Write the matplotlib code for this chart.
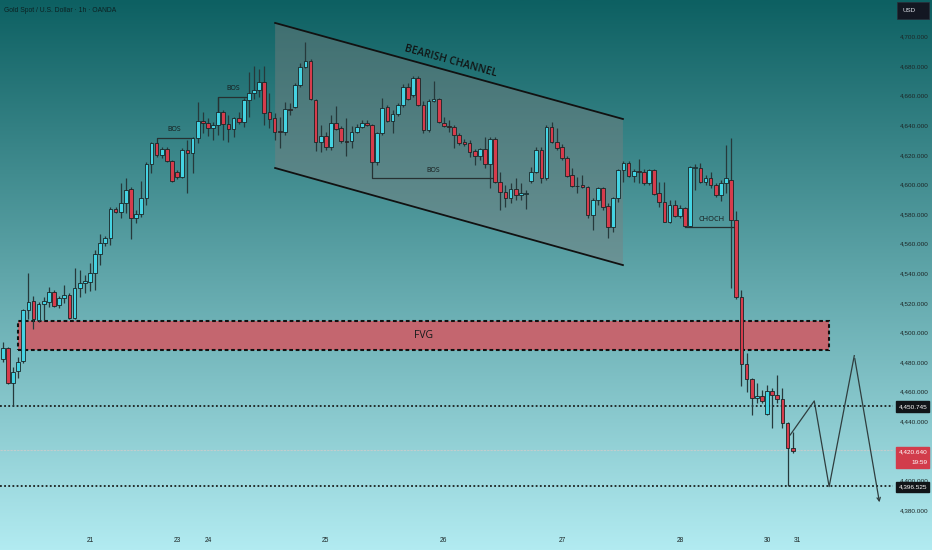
import numpy as np
import matplotlib.pyplot as plt
from matplotlib.patches import Rectangle, Polygon
from matplotlib import transforms

# hourly candles
opens = [4482.4, 4489.9, 4466.2, 4474.3, 4481.0, 4515.5, 4521.6, 4508.8, 4519.6, 4521.0,
         4527.7, 4519.0, 4523.6, 4525.7, 4510.1, 4530.4, 4533.8, 4534.5, 4540.5, 4553.4,
         4560.8, 4564.2, 4583.8, 4581.8, 4587.8, 4597.3, 4577.7, 4580.4, 4591.2, 4614.2,
         4628.4, 4620.3, 4624.3, 4616.2, 4608.8, 4605.4, 4623.6, 4621.6, 4631.8, 4643.2,
         4641.9, 4638.5, 4640.5, 4649.3, 4641.2, 4637.8, 4645.3, 4642.6, 4657.4, 4662.2,
         4664.2, 4669.6, 4649.3, 4645.3, 4636.5, 4635.8, 4651.3, 4652.7, 4667.6, 4679.7,
         4683.8, 4657.4, 4629.0, 4633.1, 4625.7, 4641.9, 4638.5, 4629.7, 4629.7, 4635.8,
         4639.2, 4641.9, 4640.5, 4615.5, 4635.1, 4652.7, 4643.2, 4648.0, 4654.1, 4666.2,
         4660.8, 4672.3, 4654.1, 4637.2, 4656.8, 4658.1, 4641.9, 4639.9, 4639.2, 4633.8,
         4629.0, 4628.4, 4623.0, 4619.6, 4624.3, 4614.2, 4631.1, 4602.0, 4595.3, 4591.2,
         4597.3, 4593.2, 4594.0, 4602.7, 4608.8, 4623.6, 4604.7, 4639.2, 4629.0, 4625.7,
         4618.2, 4606.8, 4599.3, 4600.0, 4598.6, 4579.7, 4589.9, 4598.0, 4585.8, 4571.6,
         4591.2, 4610.1, 4614.9, 4606.1, 4609.4, 4609.0, 4601.3, 4610.1, 4594.6, 4588.5,
         4575.0, 4586.5, 4579.0, 4584.5, 4572.3, 4611.5, 4611.5, 4602.0, 4604.7, 4600.0,
         4593.2, 4601.3, 4603.4, 4576.4, 4524.3, 4479.0, 4468.9, 4456.0, 4457.4, 4445.3,
         4460.8, 4458.1, 4455.4, 4439.2, 4422.3]
highs = [4493.9, 4490.5, 4477.0, 4483.8, 4516.0, 4540.5, 4525.0, 4521.0, 4524.3, 4531.0,
         4529.0, 4525.0, 4532.4, 4527.0, 4543.9, 4542.6, 4539.2, 4547.3, 4556.0, 4566.9,
         4565.5, 4585.1, 4585.0, 4601.3, 4604.7, 4598.6, 4583.1, 4602.7, 4615.5, 4629.0,
         4629.1, 4626.0, 4625.7, 4617.0, 4610.0, 4625.0, 4630.4, 4632.4, 4656.1, 4649.3,
         4645.3, 4642.6, 4659.5, 4650.7, 4647.3, 4646.0, 4649.3, 4658.8, 4676.4, 4680.4,
         4678.4, 4680.4, 4662.2, 4648.6, 4646.0, 4656.1, 4655.4, 4668.9, 4682.4, 4696.6,
         4685.1, 4658.1, 4640.5, 4635.8, 4647.3, 4653.4, 4640.0, 4645.3, 4639.9, 4641.2,
         4643.9, 4643.9, 4641.0, 4635.8, 4658.8, 4654.1, 4650.7, 4655.4, 4668.2, 4668.9,
         4673.6, 4673.6, 4656.8, 4658.1, 4670.3, 4659.0, 4646.0, 4643.9, 4640.5, 4635.0,
         4631.0, 4630.4, 4624.3, 4625.0, 4632.4, 4632.4, 4632.4, 4608.8, 4600.0, 4601.3,
         4604.7, 4601.3, 4596.6, 4612.2, 4625.7, 4625.7, 4640.5, 4642.6, 4638.5, 4627.7,
         4619.6, 4611.5, 4605.4, 4606.8, 4599.0, 4591.2, 4598.6, 4598.6, 4587.8, 4591.9,
         4610.8, 4616.2, 4616.2, 4610.8, 4617.6, 4610.8, 4610.8, 4610.8, 4602.0, 4602.0,
         4589.9, 4589.9, 4586.5, 4585.1, 4612.8, 4614.2, 4614.9, 4606.8, 4608.8, 4601.3,
         4603.4, 4627.0, 4631.8, 4582.4, 4529.0, 4486.5, 4469.6, 4466.2, 4461.5, 4464.9,
         4462.8, 4471.6, 4462.8, 4439.9, 4433.1]
lows = [4480.4, 4465.5, 4450.7, 4469.6, 4480.0, 4509.5, 4502.7, 4507.4, 4508.8, 4517.6,
        4517.6, 4517.0, 4520.3, 4509.5, 4509.5, 4524.3, 4527.0, 4528.4, 4529.0, 4546.0,
        4559.0, 4559.4, 4581.0, 4577.7, 4581.0, 4563.5, 4574.3, 4578.4, 4586.5, 4608.1,
        4618.9, 4618.0, 4615.5, 4602.0, 4604.0, 4604.7, 4594.6, 4608.1, 4628.4, 4635.1,
        4633.1, 4630.4, 4633.8, 4630.4, 4629.0, 4632.4, 4641.5, 4639.2, 4646.0, 4658.1,
        4659.5, 4640.5, 4638.5, 4630.4, 4625.0, 4633.8, 4647.3, 4652.0, 4666.2, 4679.0,
        4657.4, 4623.0, 4622.3, 4623.6, 4623.6, 4637.2, 4628.4, 4619.6, 4625.0, 4635.0,
        4638.5, 4639.9, 4614.9, 4613.5, 4633.8, 4642.6, 4635.1, 4646.6, 4652.7, 4657.4,
        4659.5, 4653.4, 4635.1, 4635.8, 4656.0, 4641.9, 4639.2, 4635.8, 4625.0, 4627.0,
        4626.5, 4619.0, 4613.5, 4616.9, 4611.5, 4598.0, 4601.3, 4583.1, 4585.1, 4587.8,
        4589.9, 4589.9, 4583.8, 4601.3, 4608.0, 4601.3, 4603.4, 4628.4, 4623.6, 4616.9,
        4605.4, 4598.6, 4594.6, 4598.0, 4577.7, 4569.6, 4586.5, 4583.1, 4564.2, 4568.2,
        4588.5, 4602.0, 4605.4, 4602.0, 4601.3, 4600.0, 4600.0, 4593.2, 4585.1, 4575.0,
        4574.3, 4578.4, 4577.7, 4571.6, 4571.6, 4596.6, 4601.3, 4600.0, 4598.0, 4591.9,
        4589.2, 4594.6, 4530.4, 4523.0, 4464.2, 4460.1, 4444.6, 4452.7, 4452.7, 4444.6,
        4435.8, 4452.7, 4435.8, 4396.5, 4419.0]
closes = [4489.9, 4466.2, 4473.6, 4480.4, 4515.5, 4521.0, 4509.5, 4519.6, 4521.6, 4527.7,
          4518.2, 4523.6, 4525.7, 4510.1, 4530.4, 4533.8, 4535.1, 4540.5, 4553.4, 4560.8,
          4564.2, 4583.8, 4581.8, 4587.8, 4596.6, 4577.7, 4580.4, 4591.2, 4614.2, 4628.4,
          4620.3, 4624.3, 4616.2, 4602.7, 4605.4, 4623.6, 4621.6, 4631.8, 4643.2, 4641.9,
          4638.5, 4640.5, 4649.3, 4641.2, 4637.8, 4645.3, 4642.6, 4657.4, 4662.2, 4664.2,
          4669.6, 4648.6, 4644.6, 4635.8, 4636.0, 4651.3, 4651.0, 4667.6, 4679.7, 4683.8,
          4658.1, 4629.0, 4633.1, 4625.7, 4641.9, 4637.8, 4629.7, 4629.2, 4635.8, 4639.2,
          4641.9, 4640.5, 4615.5, 4635.1, 4652.0, 4643.2, 4648.0, 4654.1, 4666.2, 4658.1,
          4672.3, 4654.1, 4637.2, 4656.8, 4658.1, 4642.6, 4639.9, 4639.2, 4633.8, 4628.4,
          4627.7, 4622.3, 4619.6, 4624.3, 4614.2, 4631.1, 4602.0, 4595.3, 4591.2, 4597.3,
          4593.2, 4594.6, 4594.2, 4608.8, 4623.6, 4604.7, 4639.2, 4629.0, 4625.0, 4618.2,
          4606.1, 4599.3, 4599.0, 4598.6, 4579.7, 4589.9, 4598.0, 4585.1, 4571.6, 4591.2,
          4610.1, 4614.9, 4606.1, 4609.4, 4609.0, 4601.3, 4610.1, 4593.9, 4588.5, 4575.0,
          4586.5, 4579.0, 4584.5, 4572.3, 4612.2, 4612.0, 4602.0, 4604.7, 4600.0, 4593.2,
          4601.3, 4604.7, 4576.4, 4524.3, 4479.0, 4468.9, 4456.0, 4457.4, 4454.0, 4460.8,
          4458.1, 4455.4, 4439.2, 4422.3, 4420.6]

day_labels = ['21', '23', '24', '25', '26', '27', '28', '30', '31']
day_index = [17, 34, 40, 63, 86, 109, 132, 149, 155]
price_ticks = list(range(4380, 4701, 20))

# drawings
channel_x = [53.1, 120.9]
channel_top = [4709.5, 4644.6]
channel_bot = [4611.5, 4545.9]
fvg_x = [2.9, 161.1]
fvg_lo, fvg_hi = 4488.8, 4508.3
bos_lines = [  # (x_start, x_end, level, candle edge at x_start)
    (30, 37, 4631.8, 4629.0),
    (42, 48, 4659.7, 4649.3),
    (72, 95.6, 4604.7, 4615.5),
]
bos_text = [(33.4, 4637.2), (44.9, 4665.5), (83.9, 4610.1)]
choch = (133, 142.7, 4571.6)
proj_x = [153.5, 158.2, 161.1, 166.0, 171.0]
proj_y = [4431.1, 4454.1, 4396.2, 4484.7, 4383.8]
level_hi = 4450.745
level_lo = 4396.525
last_price = 4420.640

fig = plt.figure(figsize=(9.32, 5.5), dpi=100)
ax = fig.add_axes([0, 0, 1, 1])
x0, x1 = -0.53, 181.15
y0, y1 = 4353.4, 4725.0
ax.set_xlim(x0, x1)
ax.set_ylim(y0, y1)
ax.axis('off')

# teal gradient background
top = np.array([13, 96, 98]) / 255
bot = np.array([178, 235, 241]) / 255
t = np.linspace(0, 1, 300)[:, None]
grad = (top * (1 - t) + bot * t)[:, None, :]
ax.imshow(grad, extent=[x0, x1, y0, y1], aspect='auto', origin='upper', zorder=0)

# bearish channel
ax.add_patch(Polygon([(channel_x[0], channel_top[0]), (channel_x[1], channel_top[1]),
                      (channel_x[1], channel_bot[1]), (channel_x[0], channel_bot[0])],
                     closed=True, facecolor='#7e7e7e', alpha=0.42, edgecolor='none', zorder=1))
ax.plot(channel_x, channel_top, color='#111111', lw=1.3, zorder=2)
ax.plot(channel_x, channel_bot, color='#111111', lw=1.3, zorder=2)
ax.text(87.4, 4683.5, 'BEARISH CHANNEL', rotation=-15.4, rotation_mode='anchor',
        ha='center', va='center', fontsize=7.5, fontweight='semibold', color='#111515',
        family='Open Sans', zorder=5)

# FVG box
ax.add_patch(Rectangle((fvg_x[0], fvg_lo), fvg_x[1] - fvg_x[0], fvg_hi - fvg_lo,
                       facecolor='#c4666f', edgecolor='#111111', lw=1.5,
                       linestyle=(0, (1.8, 1.3)), zorder=1))
ax.text((fvg_x[0] + fvg_x[1]) / 2, (fvg_lo + fvg_hi) / 2, 'FVG', ha='center', va='center',
        fontsize=7.5, color='#151a1a', family='Open Sans', zorder=5)

# horizontal levels
ax.hlines([level_hi, level_lo], x0, 173.6, colors='#1b1f1f', lw=1.3,
          linestyles=[(0, (1, 1.3))], zorder=2)
ax.hlines(last_price, x0, 173.6, colors='#c3cdcd', lw=0.8, linestyles=[(0, (2, 1))], zorder=1.5)

# candles
idx = np.arange(len(opens))
o = np.array(opens)
c = np.array(closes)
up = c >= o
ax.vlines(idx, lows, highs, color='#26393b', lw=0.9, zorder=3)
body = np.maximum(np.abs(c - o), 0.6)
ax.bar(idx, body, bottom=np.minimum(o, c), width=0.72,
       color=np.where(up, '#45d3e2', '#d63c4c'), edgecolor='#1a2526', lw=0.6, zorder=4)

# BOS / CHOCH markers
for xs, xe, lvl, edge in bos_lines:
    ax.plot([xs, xs, xe], [edge, lvl, lvl], color='#263132', lw=0.9, zorder=3)
for (tx, ty) in bos_text:
    ax.text(tx, ty, 'BOS', ha='center', va='center', fontsize=5, color='#151a1a',
            family='Open Sans', zorder=5)
ax.plot([choch[0], choch[1]], [choch[2], choch[2]], color='#263132', lw=0.9, zorder=3)
ax.text(138.1, 4577.0, 'CHOCH', ha='center', va='center', fontsize=5.3, color='#151a1a',
        family='Open Sans', zorder=5)

# projected path
ax.plot(proj_x[:-1], proj_y[:-1], color='#2f3d3e', lw=0.9, zorder=3)
ax.annotate('', xy=(proj_x[-1], proj_y[-1]), xytext=(proj_x[-2], proj_y[-2]),
            arrowprops=dict(arrowstyle='->', color='#2f3d3e', lw=0.9, mutation_scale=6),
            zorder=3)

# price scale
blend = transforms.blended_transform_factory(ax.transAxes, ax.transData)
for p in price_ticks:
    ax.text(0.9965, p, f'{p:,.3f}', transform=blend, ha='right', va='center',
            fontsize=4.6, color='#1c2626', family='Liberation Sans', zorder=6)


def price_box(lines, face, height, center):
    ax.add_patch(Rectangle((0.961, center - height / 2), 0.036, height, transform=blend,
                           facecolor=face, edgecolor=face, zorder=7))
    n = len(lines)
    for k, s in enumerate(lines):
        yy = center + (n - 1) * height / 4 - k * height / 2
        ax.text(0.9955, yy, s, transform=blend, ha='right', va='center', fontsize=4.6,
                color='white', family='Liberation Sans', zorder=8)


price_box([f'{level_hi:,.3f}'], '#111518', 7.6, 4450.2)
price_box([f'{last_price:,.3f}', '19:59'], '#d23c4b', 14.2, 4416.1)
price_box([f'{level_lo:,.3f}'], '#111518', 6.8, 4396.1)

# USD tag and title
ax.add_patch(Rectangle((0.9625, 0.9655), 0.0345, 0.031, transform=ax.transAxes,
                       facecolor='#131722', edgecolor='#2a2e39', lw=0.5, zorder=7))
ax.text(0.968, 0.981, 'USD', transform=ax.transAxes, ha='left', va='center', fontsize=4.5,
        color='#e0e3eb', family='Liberation Sans', zorder=8)
ax.text(4 / 932, 1 - 11 / 550, 'Gold Spot / U.S. Dollar · 1h · OANDA', transform=ax.transAxes,
        ha='left', va='center', fontsize=4.9, color='#0c2122', family='Liberation Sans', zorder=6)

# time axis
for lab, pos in zip(day_labels, day_index):
    ax.text(pos, 4360.1, lab, ha='center', va='center', fontsize=4.8, color='#1c2626',
            family='Liberation Sans', zorder=6)

fig.savefig('out.png', dpi=100)
